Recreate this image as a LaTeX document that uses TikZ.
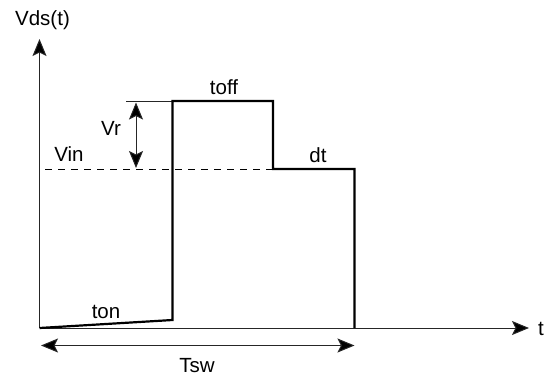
\documentclass[tikz,border=0pt]{standalone}
\usepackage{fontspec}
\setmainfont{Liberation Sans}
\usetikzlibrary{arrows.meta}
\tikzset{
  lbl/.style={inner sep=0pt,font=\fontsize{20.5}{24}\selectfont,text=black},
  thinln/.style={line width=1pt,draw=black!85},
  dashln/.style={line width=0.7pt,draw=black,dash pattern=on 6.5pt off 6.5pt},
  thickln/.style={line width=2.2pt,line join=miter,draw=black},
  tip/.style={-{Stealth[length=17pt,width=14pt,inset=3.5pt,fill=black]}},
  tips/.style={{Stealth[length=17pt,width=14pt,inset=3.5pt,fill=black]}-{Stealth[length=17pt,width=14pt,inset=3.5pt,fill=black]}}
}
\begin{document}
\begin{tikzpicture}[x=1pt,y=-1pt]
\useasboundingbox (0,0) rectangle (553,377);
\coordinate (o) at (39.5,328);
\coordinate (ytop) at (39.5,39);
\coordinate (xend) at (529,328);
\coordinate (a) at (172.5,320);
\coordinate (b) at (172.5,101);
\coordinate (c) at (273,101);
\coordinate (d) at (273,169);
\coordinate (e) at (354.5,169);
\coordinate (f) at (354.5,328);
\coordinate (vins) at (45,169);
\coordinate (vrl) at (126,101);
\coordinate (vrt) at (136,102.5);
\coordinate (vrb) at (136,168);
\coordinate (tswl) at (41,345.5);
\coordinate (tswr) at (354.5,345.5);
\draw[thinln,tip] (o) -- (ytop);
\draw[thinln,tip] (o) -- (xend);
\draw[dashln] (vins) -- (d);
\draw[thinln] (vrl) -- (b);
\draw[thinln,tips] (vrt) -- (vrb);
\draw[thinln,tips] (tswl) -- (tswr);
\draw[thickln] (o) -- (a) -- (b) -- (c) -- (d) -- (e) -- (f);
\node[lbl] (vds) at (42.5,20) {Vds(t)};
\node[lbl] (toff) at (224,87.5) {toff};
\node[lbl] (vr) at (111,128) {Vr};
\node[lbl] (vin) at (69,154) {Vin};
\node[lbl] (dt) at (318,155) {dt};
\node[lbl] (ton) at (106,312) {ton};
\node[lbl] (tsw) at (197,366) {Tsw};
\node[lbl] (t) at (541,329) {t};
\end{tikzpicture}
\end{document}
